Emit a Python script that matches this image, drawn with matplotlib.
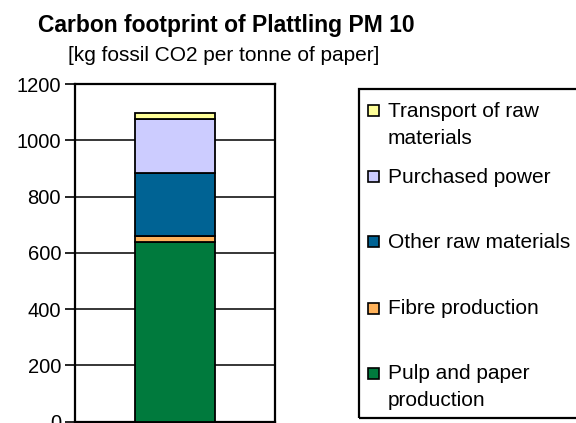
import numpy as np
import matplotlib.pyplot as plt
from matplotlib.patches import Rectangle

plt.rcParams['font.family'] = ['Liberation Sans', 'DejaVu Sans']

# Data (kg fossil CO2 per tonne of paper), stacked bottom -> top
categories = ['Pulp and paper\nproduction', 'Fibre production', 'Other raw materials',
              'Purchased power', 'Transport of raw\nmaterials']
values = [638, 22, 222, 192, 22]
colors = ['#007A3D', '#FFB25A', '#006394', '#CCCCFF', '#FFFF99']
yticks = [0, 200, 400, 600, 800, 1000, 1200]

fig = plt.figure(figsize=(5.76, 4.23), dpi=100)
W, H = 576, 423
ax = fig.add_axes([75 / W, 1.5 / H, 200 / W, 337.5 / H])

bottom = 0
for v, c in zip(values, colors):
    ax.bar(0, v, width=0.8, bottom=bottom, color=c, edgecolor='black', linewidth=1.3, zorder=3)
    bottom += v

ax.set_xlim(-1, 1)
ax.set_ylim(0, 1200)
ax.set_yticks(yticks)
ax.set_xticks([])
ax.tick_params(axis='y', direction='out', length=7, width=1.2, labelsize=14.5, pad=3)
ax.yaxis.grid(True, color='black', linewidth=1.1, zorder=0)
ax.set_axisbelow(True)
for s in ax.spines.values():
    s.set_linewidth(1.6)

# titles
fig.text(38 / W, 1 - 32 / H, 'Carbon footprint of Plattling PM 10', fontsize=16.5,
         fontweight='bold', ha='left', va='baseline')
fig.text(68 / W, 1 - 61 / H, '[kg fossil CO2 per tonne of paper]', fontsize=15,
         ha='left', va='baseline')

# legend box, drawn by hand to copy the uneven Excel spacing
fig.patches.append(Rectangle((359 / W, 1 - 418 / H), 230 / W, 329 / H,
                             transform=fig.transFigure, fill=False,
                             edgecolor='black', linewidth=1.6))
first_line_y = [373, 308, 242, 177, 111]  # pixel rows of each entry's first line
for lab, c, yy in zip(categories, colors, first_line_y):
    fig.patches.append(Rectangle((368 / W, 1 - (yy + 5.5) / H), 11 / W, 11 / H,
                                 transform=fig.transFigure, facecolor=c,
                                 edgecolor='black', linewidth=1.2))
    for k, ln in enumerate(lab.split('\n')):
        fig.text(388 / W, 1 - (yy + 27 * k) / H, ln, fontsize=15, ha='left', va='center')

fig.savefig('out.png', dpi=100)
